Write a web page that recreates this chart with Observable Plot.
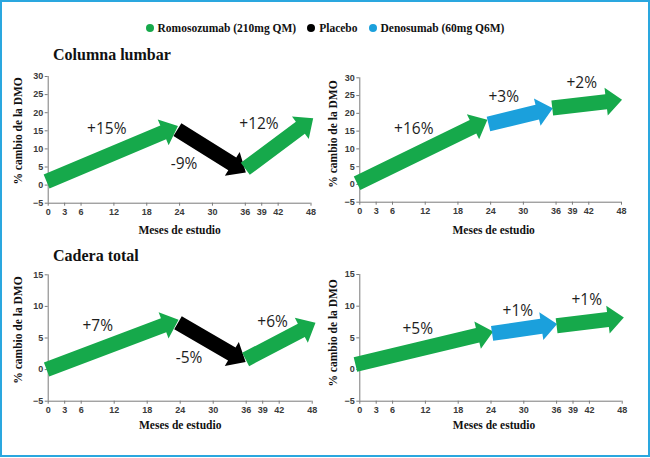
<!DOCTYPE html>
<html><head><meta charset="utf-8">
<script src="https://cdn.jsdelivr.net/npm/d3@7"></script>
<script src="https://cdn.jsdelivr.net/npm/@observablehq/plot@0.6"></script>
<style>
body{margin:0;background:#fff;}
#page{position:relative;width:650px;height:458px;overflow:hidden;font-family:"Liberation Serif",serif;background:#fff;}
#frame{position:absolute;left:0;top:0;width:650px;height:457px;border:2px solid #2aa7df;box-sizing:border-box;pointer-events:none;z-index:5;}
#legend{position:absolute;top:20px;left:0;width:650px;display:flex;justify-content:center;gap:11px;font-weight:bold;font-size:11.5px;color:#111;line-height:16px;}
.item{display:flex;align-items:center;gap:4px}
.dot{width:8px;height:8px;border-radius:50%}
.title{position:absolute;left:53px;font-weight:bold;font-size:16px;color:#111;line-height:20px;}
.panel{position:absolute}
</style></head>
<body><div id="page"><div id="frame"></div><div id="legend"></div>
<div class="title" style="top:45px">Columna lumbar</div>
<div class="title" style="top:246px">Cadera total</div>
</div>
<script>
// ---------- data ----------
const treatments = ["Romosozumab (210mg QM)", "Placebo", "Denosumab (60mg Q6M)"];
const treatmentColors = ["#16a94b", "#000000", "#1ba0dc"];
const monthTicks = [0, 3, 6, 12, 18, 24, 30, 36, 39, 42, 48];
const lumbarTicks = [-5, 0, 5, 10, 15, 20, 25, 30];
const hipTicks = [-5, 0, 5, 10, 15];
const yTitle = "% cambio de la DMO";
const xTitle = "Meses de estudio";

// Columna lumbar, romosozumab -> placebo -> romosozumab
const lumbarPlaTreat = [0, 1, 0];
const lumbarPlaX1 = [-0.3, 23.6, 36.0];
const lumbarPlaY1 = [1.0, 15.3, 4.5];
const lumbarPlaX2 = [23.7, 36.1, 48.4];
const lumbarPlaY2 = [16.3, 3.5, 18.5];
const lumbarPlaLabels = ["+15%", "-9%", "+12%"];
const lumbarPlaLabelX = [10.7, 24.8, 38.5];
const lumbarPlaLabelY = [15.5, 5.7, 17.0];

// Columna lumbar, romosozumab -> denosumab -> romosozumab
const lumbarDenTreat = [0, 2, 0];
const lumbarDenX1 = [-0.5, 23.6, 35.3];
const lumbarDenY1 = [0.3, 17.0, 21.5];
const lumbarDenX2 = [23.4, 35.4, 48.1];
const lumbarDenY2 = [18.2, 21.4, 23.8];
const lumbarDenLabels = ["+16%", "+3%", "+2%"];
const lumbarDenLabelX = [9.9, 26.4, 40.7];
const lumbarDenLabelY = [15.6, 24.6, 28.5];

// Cadera total, romosozumab -> placebo -> romosozumab
const hipPlaTreat = [0, 1, 0];
const hipPlaX1 = [-0.3, 23.6, 35.9];
const hipPlaY1 = [0.0, 7.4, 1.6];
const hipPlaX2 = [23.7, 35.9, 48.6];
const hipPlaY2 = [7.9, 1.2, 7.4];
const hipPlaLabels = ["+7%", "-5%", "+6%"];
const hipPlaLabelX = [9.0, 25.6, 40.8];
const hipPlaLabelY = [6.85, 1.85, 7.5];

// Cadera total, romosozumab -> denosumab -> romosozumab
const hipDenTreat = [0, 2, 0];
const hipDenX1 = [-0.8, 24.2, 36.0];
const hipDenY1 = [0.8, 5.7, 6.9];
const hipDenX2 = [24.4, 36.1, 48.3];
const hipDenY2 = [6.0, 7.2, 8.2];
const hipDenLabels = ["+5%", "+1%", "+1%"];
const hipDenLabelX = [10.6, 28.9, 41.5];
const hipDenLabelY = [6.4, 9.3, 10.9];

// ---------- legend ----------
const legend = document.getElementById("legend");
treatments.forEach((t, i) => {
  const it = document.createElement("div"); it.className = "item";
  const d = document.createElement("span"); d.className = "dot"; d.style.background = treatmentColors[i];
  const s = document.createElement("span"); s.textContent = t;
  it.append(d, s); legend.append(it);
});

// ---------- panels ----------
const SHAFT = 15, HEADW = 28, HEADL = 16;

function arrowPolygon(x1, y1, x2, y2, kx, ky) {
  // pixel space (y down) relative to tail
  const px = (x2 - x1) * kx, py = -(y2 - y1) * ky;
  const L = Math.hypot(px, py), ux = px / L, uy = py / L, nx = -uy, ny = ux;
  const b = L - HEADL;
  const pts = [
    [nx * SHAFT / 2, ny * SHAFT / 2],
    [ux * b + nx * SHAFT / 2, uy * b + ny * SHAFT / 2],
    [ux * b + nx * HEADW / 2, uy * b + ny * HEADW / 2],
    [px, py],
    [ux * b - nx * HEADW / 2, uy * b - ny * HEADW / 2],
    [ux * b - nx * SHAFT / 2, uy * b - ny * SHAFT / 2],
    [-nx * SHAFT / 2, -ny * SHAFT / 2]
  ];
  return pts.map(([ox, oy]) => ({x: x1 + ox / kx, y: y1 - oy / ky}));
}

function panel(cfg) {
  const {left, top, W, H, ml, mr, mt, mb, yDomain, yTicks, treat, x1, y1, x2, y2, labels, lx, ly, ydx, ydy, xdx, xdy} = cfg;
  const kx = (W - ml - mr) / 48;
  const ky = (H - mt - mb) / (yDomain[1] - yDomain[0]);
  const arrowMarks = treat.map((t, i) =>
    Plot.line(arrowPolygon(x1[i], y1[i], x2[i], y2[i], kx, ky), {
      x: "x", y: "y", fill: treatmentColors[t], stroke: "none", curve: "linear-closed"
    })
  );
  const labelData = labels.map((s, i) => ({s, x: lx[i], y: ly[i]}));
  const chart = Plot.plot({
    width: W, height: H,
    marginLeft: ml, marginRight: mr, marginTop: mt, marginBottom: mb,
    style: {fontFamily: "Liberation Sans, Arial, sans-serif", fontSize: "9px", background: "transparent", overflow: "visible"},
    x: {domain: [0, 48], axis: null},
    y: {domain: yDomain, axis: null},
    marks: [
      Plot.ruleY([yDomain[0]], {stroke: "#7a7a7a", strokeWidth: 1}),
      Plot.ruleX([0], {stroke: "#7a7a7a", strokeWidth: 1}),
      Plot.axisX(monthTicks, {tickSize: 3, tickPadding: 2, label: null, stroke: "#7a7a7a", fill: "#3a3a3a", fontWeight: "bold", fontSize: 9}),
      Plot.axisY(yTicks, {tickSize: 3, tickPadding: 2, label: null, stroke: "#7a7a7a", fill: "#3a3a3a", fontWeight: "bold", fontSize: 9}),
      ...arrowMarks,
      Plot.text(labelData, {x: "x", y: "y", text: "s", fontFamily: "Open Sans, sans-serif", fontSize: 15.5, fill: "#1e1e1e"}),
      Plot.text([yTitle], {text: d => d, frameAnchor: "left", textAnchor: "middle", lineAnchor: "middle", rotate: -90, dx: ydx, dy: ydy, fontFamily: "Liberation Serif, serif", fontWeight: "bold", fontSize: 11.5, fill: "#111"}),
      Plot.text([xTitle], {text: d => d, frameAnchor: "bottom", textAnchor: "middle", lineAnchor: "middle", dx: xdx, dy: xdy, fontFamily: "Liberation Serif, serif", fontWeight: "bold", fontSize: 11.5, fill: "#111"})
    ]
  });
  chart.classList.add("panel");
  chart.style.left = left + "px";
  chart.style.top = top + "px";
  document.getElementById("page").append(chart);
}

panel({left: 0, top: 62, W: 322, H: 185, ml: 47.7, mr: 11.5, mt: 14, mb: 44.3,
  yDomain: [-5, 30], yTicks: lumbarTicks, treat: lumbarPlaTreat,
  x1: lumbarPlaX1, y1: lumbarPlaY1, x2: lumbarPlaX2, y2: lumbarPlaY2,
  labels: lumbarPlaLabels, lx: lumbarPlaLabelX, ly: lumbarPlaLabelY,
  ydx: -29.4, ydy: -9, xdx: 0, xdy: 27.3});
panel({left: 310, top: 62, W: 322, H: 185, ml: 49.3, mr: 11, mt: 15.3, mb: 45.3,
  yDomain: [-5, 30], yTicks: lumbarTicks, treat: lumbarDenTreat,
  x1: lumbarDenX1, y1: lumbarDenY1, x2: lumbarDenX2, y2: lumbarDenY2,
  labels: lumbarDenLabels, lx: lumbarDenLabelX, ly: lumbarDenLabelY,
  ydx: -26, ydy: -6, xdx: 3, xdy: 28.3});
panel({left: 0, top: 262, W: 322, H: 185, ml: 47.7, mr: 10.3, mt: 12.3, mb: 46.3,
  yDomain: [-5, 15], yTicks: hipTicks, treat: hipPlaTreat,
  x1: hipPlaX1, y1: hipPlaY1, x2: hipPlaX2, y2: hipPlaY2,
  labels: hipPlaLabels, lx: hipPlaLabelX, ly: hipPlaLabelY,
  ydx: -29.4, ydy: -8, xdx: 0, xdy: 24.3});
panel({left: 310, top: 262, W: 322, H: 185, ml: 49.3, mr: 10.3, mt: 12, mb: 46.3,
  yDomain: [-5, 15], yTicks: hipTicks, treat: hipDenTreat,
  x1: hipDenX1, y1: hipDenY1, x2: hipDenX2, y2: hipDenY2,
  labels: hipDenLabels, lx: hipDenLabelX, ly: hipDenLabelY,
  ydx: -26, ydy: -5, xdx: 3, xdy: 24.3});
</script>
</body></html>
